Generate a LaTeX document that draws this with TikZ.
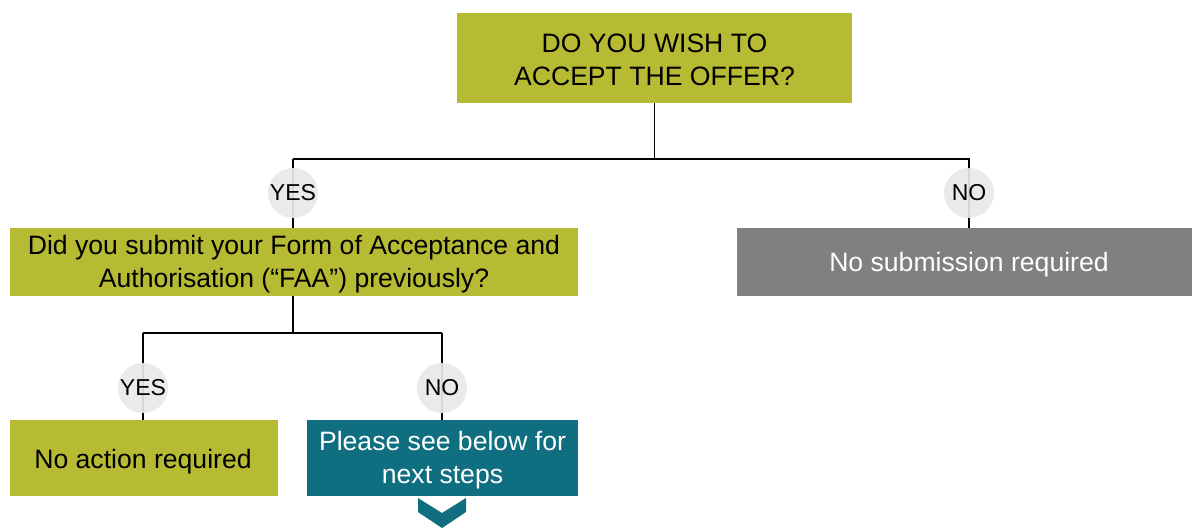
\documentclass[tikz,border=0pt]{standalone}
\usepackage{fontspec}
\setmainfont{Liberation Sans}
\definecolor{olive}{HTML}{B7BB33}
\definecolor{teal2}{HTML}{0F6E80}
\definecolor{grey2}{HTML}{808080}
\definecolor{circ}{HTML}{E8E8E8}
\begin{document}
\begin{tikzpicture}[x=1pt,y=-1pt,
  box/.style={draw=none,inner sep=0pt,align=center,font=\fontsize{26.6}{32.5}\selectfont},
  conn/.style={line width=1.8pt,black},
  lab/.style={circle,fill=circ,fill opacity=0.92,text opacity=1,minimum size=50pt,inner sep=0pt,font=\fontsize{23}{26}\selectfont}]
\useasboundingbox (0,0) rectangle (1192,528);
% boxes
\fill[olive] (457,13) rectangle (852,103);
\node[box] (q1) at (654.5,60) {DO YOU WISH TO\\ACCEPT THE OFFER?};
\coordinate (q1b) at (654.5,103);
\fill[olive] (10,228) rectangle (578,296);
\node[box] (q2) at (294,264) {Did you submit your Form of Acceptance and\\Authorisation (“FAA”) previously?};
\coordinate (q2t) at (293,228);
\coordinate (q2b) at (293,296);
\fill[grey2] (737,228) rectangle (1192,296);
\node[box,text=white] (ns) at (969,264.5) {No submission required};
\coordinate (nst) at (969,228);
\fill[olive] (10,420) rectangle (278,496);
\node[box] (na) at (143,461.5) {No action required};
\coordinate (nat) at (143,420);
\fill[teal2] (307,420) rectangle (578,496);
\node[box,text=white] (ps) at (442.5,460) {Please see below for\\next steps};
\coordinate (pst) at (442,420);
% connectors
\draw[conn] (q1b) -- (654.5,159) coordinate (j1);
\draw[conn] (293,159) -| (q2t);
\draw[conn] (293,159) -- (969,159) -- (nst);
\draw[conn] (q2b) -- (293,333);
\draw[conn] (143,333) -- (442,333);
\draw[conn] (143,333) -- (nat);
\draw[conn] (442,333) -- (pst);
% labels
\node[lab] (y1) at (293,193) {\raisebox{-1.5pt}{YES}};
\node[lab] (n1) at (969,193) {\raisebox{-1.5pt}{NO}};
\node[lab] (y2) at (143,388) {\raisebox{-1.5pt}{YES}};
\node[lab] (n2) at (442,388) {\raisebox{-1.5pt}{NO}};
% chevron
\fill[teal2] (418,498) -- (442,513) -- (466,498) -- (466,512) -- (442,528) -- (418,512) -- cycle;
\end{tikzpicture}
\end{document}
